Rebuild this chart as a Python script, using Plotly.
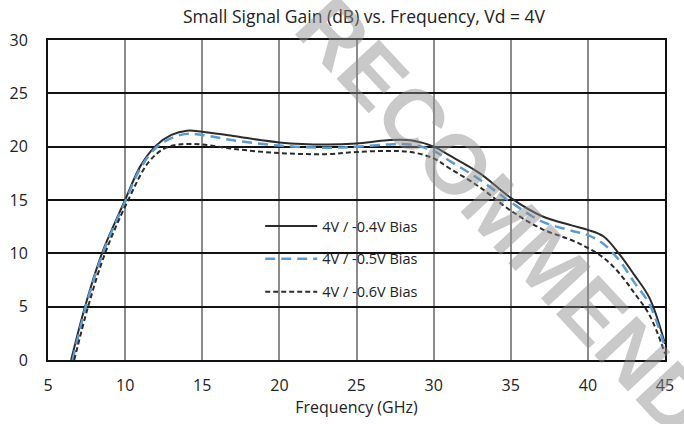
import plotly.graph_objects as go

# Data
freq_04 = [6.5, 7.4, 8.5, 10.0, 11.0, 12.0, 13.0, 14.0, 15.0, 17.0, 20.0, 23.0, 25.0, 27.0, 28.5, 30.0, 31.0, 33.0, 35.0, 37.0, 39.0, 40.0, 41.0, 42.0, 43.0, 44.0, 45.0]
gain_04 = [0.0, 5.0, 10.0, 15.0, 18.2, 20.1, 21.1, 21.5, 21.4, 21.0, 20.4, 20.2, 20.3, 20.6, 20.6, 20.0, 19.2, 17.5, 15.2, 13.5, 12.6, 12.2, 11.6, 10.0, 8.0, 5.8, 1.5]

freq_05 = [6.6, 7.45, 8.55, 10.05, 11.0, 12.0, 13.0, 14.0, 15.0, 17.0, 20.0, 23.0, 25.0, 27.0, 28.5, 30.0, 31.0, 33.0, 35.0, 37.0, 39.0, 40.0, 41.0, 42.0, 43.0, 44.0, 45.0]
gain_05 = [0.0, 5.0, 10.0, 15.0, 18.0, 19.9, 20.8, 21.2, 21.1, 20.6, 20.1, 19.9, 20.0, 20.2, 20.2, 19.6, 18.7, 16.9, 14.8, 13.0, 12.1, 11.7, 10.9, 9.4, 7.3, 5.2, 1.2]

freq_06 = [6.7, 7.6, 8.7, 10.2, 11.5, 12.5, 13.5, 15.0, 17.0, 20.0, 23.0, 25.0, 27.0, 28.5, 30.0, 31.0, 33.0, 35.0, 37.0, 39.0, 40.0, 41.0, 42.0, 43.0, 44.0, 45.0]
gain_06 = [0.0, 5.0, 10.0, 15.0, 18.5, 19.8, 20.2, 20.2, 19.8, 19.4, 19.3, 19.5, 19.6, 19.5, 18.9, 18.0, 16.2, 14.0, 12.3, 11.2, 10.5, 9.6, 8.2, 6.3, 4.2, 0.6]

series_names = ["4V / -0.4V Bias", "4V / -0.5V Bias", "4V / -0.6V Bias"]
x_ticks = [5, 10, 15, 20, 25, 30, 35, 40, 45]
y_ticks = [0, 5, 10, 15, 20, 25, 30]

FONT = "'Open Sans', Lato, sans-serif"

fig = go.Figure()
fig.add_trace(go.Scatter(x=freq_04, y=gain_04, name=series_names[0], mode="lines",
                         line=dict(color="#2b2b2b", width=2, shape="spline"),
                         legendgroup="a"))
fig.add_trace(go.Scatter(x=freq_05, y=gain_05, name=series_names[1], mode="lines",
                         line=dict(color="#5b9bd5", width=2.5, dash="10px,6px", shape="spline"),
                         legendgroup="b"))
fig.add_trace(go.Scatter(x=freq_06, y=gain_06, name=series_names[2], mode="lines",
                         line=dict(color="#2b2b2b", width=2, dash="5px,3px", shape="spline"),
                         legendgroup="c"))

# white box behind legend hiding the gridlines
fig.add_shape(type="rect", xref="paper", yref="paper",
              x0=(255 - 46) / 628, x1=(441 - 46) / 628,
              y0=(360 - 312) / 320, y1=(360 - 205) / 320,
              fillcolor="white", line=dict(width=0), layer="between")

fig.add_annotation(text="RECOMMENDED", xref="paper", yref="paper",
                   x=(550 - 46) / 628, y=(360 - 258) / 320,
                   xanchor="center", yanchor="middle",
                   showarrow=False, textangle=47,
                   font=dict(family="Liberation Sans, Arial, sans-serif", size=84,
                             color="rgba(140,140,140,0.47)", weight="bold"))

fig.update_layout(
    width=684, height=424,
    margin=dict(l=46, r=10, t=40, b=64),
    paper_bgcolor="white", plot_bgcolor="white",
    font=dict(family=FONT, size=16, color="#222"),
    title=dict(text="Small Signal Gain (dB) vs. Frequency, Vd = 4V",
               x=364 / 684, xanchor="center", y=1 - 17 / 424, yanchor="middle",
               font=dict(family=FONT, size=17.5, color="#222")),
    showlegend=True,
    legend=dict(x=(262 - 46) / 628, y=(360 - 210) / 320, xanchor="left", yanchor="top",
                bgcolor="rgba(0,0,0,0)", borderwidth=0, itemwidth=52,
                tracegroupgap=11, font=dict(family=FONT, size=14.5, color="#222")),
)

fig.update_xaxes(range=[5, 45], tickvals=x_ticks, ticktext=[str(v) for v in x_ticks],
                 showgrid=True, gridcolor="#8c8c8c", gridwidth=2,
                 showline=True, linecolor="#111", linewidth=2, mirror=True,
                 zeroline=False, ticks="", ticklabelstandoff=10,
                 tickfont=dict(family=FONT, size=16, color="#222"),
                 title=dict(text="Frequency (GHz)", standoff=5,
                            font=dict(family=FONT, size=16, color="#222")))
fig.update_yaxes(range=[0, 30], tickvals=y_ticks, ticktext=[str(v) for v in y_ticks],
                 showgrid=True, gridcolor="#111", gridwidth=1.5,
                 showline=True, linecolor="#111", linewidth=2, mirror=True,
                 zeroline=False, ticks="", ticklabelstandoff=15,
                 tickfont=dict(family=FONT, size=16, color="#222"))

fig.write_html("out.html")
